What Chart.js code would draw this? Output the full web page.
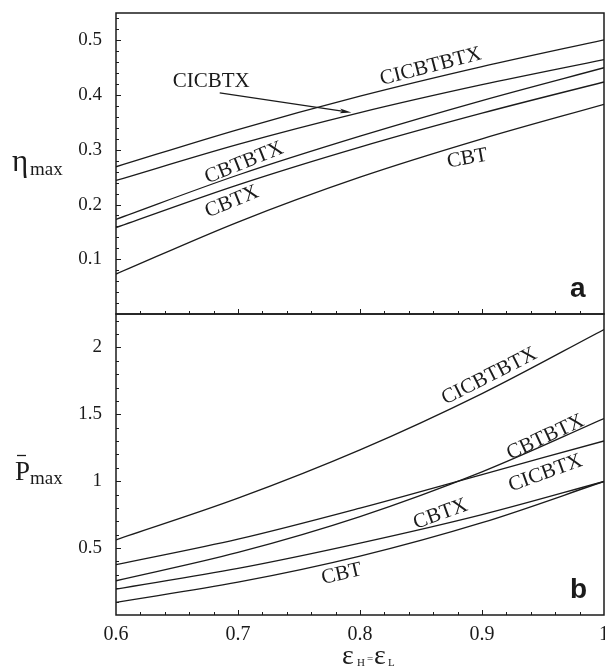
<!DOCTYPE html>
<html>
<head>
<meta charset="utf-8">
<script src="https://cdn.jsdelivr.net/npm/chart.js@4.4.1/dist/chart.umd.min.js"></script>
<style>
    html, body { margin: 0; padding: 0; background: #fff; }
    #wrap { position: relative; width: 605px; height: 669px; overflow: hidden; }
    canvas { position: absolute; left: 0; }
    #chartA { top: 0; }
    #chartB { top: 300px; }
</style>
</head>
<body>
<div id="wrap">
    <canvas id="chartA" width="612" height="332"></canvas>
    <canvas id="chartB" width="612" height="369"></canvas>
</div>
<script>
// emissivity eps_H = eps_L
const eps = [0.6, 0.7, 0.8, 0.9, 1.0];
const xTicks = [0.6, 0.7, 0.8, 0.9, 1];
const etaTicks = [0.1, 0.2, 0.3, 0.4, 0.5];
const powTicks = [0.5, 1, 1.5, 2];

// panel a: max efficiency
const etaCICBTBTX = [0.269, 0.337, 0.398, 0.452, 0.501];
const etaCICBTX = [0.244, 0.310, 0.368, 0.419, 0.465];
const etaCBTBTX = [0.173, 0.254, 0.325, 0.390, 0.450];
const etaCBTX = [0.158, 0.236, 0.305, 0.367, 0.424];
const etaCBT = [0.073, 0.168, 0.250, 0.320, 0.383];

// panel b: max dimensionless power
const powCICBTBTX = [0.562, 0.873, 1.234, 1.655, 2.134];
const powCICBTX = [0.376, 0.567, 0.799, 1.050, 1.301];
const powCBTBTX = [0.256, 0.468, 0.736, 1.070, 1.468];
const powCBTX = [0.194, 0.348, 0.537, 0.750, 0.998];
const powCBT = [0.095, 0.245, 0.440, 0.690, 0.998];

const INK = '#1b1b1b';
const SERIF = '"Liberation Serif", "DejaVu Serif", serif';

function series(values) {
    return {
        data: eps.map((e, i) => ({ x: e, y: values[i] })),
        borderColor: INK,
        borderWidth: 1.3,
        pointRadius: 0,
        fill: false,
        cubicInterpolationMode: 'monotone',
    };
}

// text along a curve, anchored in data coordinates
function curveLabel(chart, text, xv, yv, deg) {
    const ctx = chart.ctx;
    ctx.save();
    ctx.translate(chart.scales.x.getPixelForValue(xv), chart.scales.y.getPixelForValue(yv));
    ctx.rotate(deg * Math.PI / 180);
    ctx.font = '21px ' + SERIF;
    ctx.fillStyle = INK;
    ctx.textAlign = 'center';
    ctx.textBaseline = 'middle';
    ctx.fillText(text, 0, 0);
    ctx.restore();
}

// frame plus inward major / minor tick marks
function drawFrame(chart, yMax, yMinor, yMajors) {
    const { ctx, chartArea: a, scales: { x, y } } = chart;
    ctx.save();
    ctx.strokeStyle = INK;
    ctx.lineWidth = 1.5;
    ctx.strokeRect(a.left, a.top, a.right - a.left, a.bottom - a.top);
    ctx.lineWidth = 1;
    ctx.beginPath();
    // left axis
    const ny = Math.round(yMax / yMinor);
    for (let i = 1; i <= ny; i++) {
        const v = i * yMinor;
        const py = Math.round(y.getPixelForValue(v)) + 0.5;
        if (py < a.top + 2) continue;
        const major = yMajors.some(t => Math.abs(t - v) < 1e-6);
        ctx.moveTo(a.left, py);
        ctx.lineTo(a.left + (major ? 5 : 3), py);
    }
    // bottom axis
    for (let i = 1; i < 20; i++) {
        const v = 0.6 + i * 0.02;
        const px = Math.round(x.getPixelForValue(v)) + 0.5;
        const major = i % 5 === 0;
        ctx.moveTo(px, a.bottom);
        ctx.lineTo(px, a.bottom - (major ? 5 : 3));
    }
    ctx.stroke();
    ctx.restore();
}

function panelLetter(chart, letter) {
    const { ctx, chartArea: a } = chart;
    ctx.save();
    ctx.font = 'bold 28px "Liberation Sans", Arial, sans-serif';
    ctx.fillStyle = INK;
    ctx.textAlign = 'left';
    ctx.textBaseline = 'alphabetic';
    ctx.fillText(letter, a.right - 34, a.bottom - 17);
    ctx.restore();
}

function yScale(min, max, ticks) {
    return {
        type: 'linear',
        min: min,
        max: max,
        afterBuildTicks: s => { s.ticks = ticks.map(v => ({ value: v })); },
        afterFit: s => { s.width = 116; },
        grid: { display: false, drawTicks: true, tickLength: 14 },
        border: { display: false },
        ticks: {
            padding: 0,
            color: INK,
            font: { family: SERIF, size: 19 },
            callback: v => String(v),
        },
    };
}

const basePlugins = {
    legend: { display: false },
    tooltip: { enabled: false },
};

const chartA = new Chart(document.getElementById('chartA'), {
    type: 'line',
    data: {
        datasets: [
            series(etaCICBTBTX),
            series(etaCICBTX),
            series(etaCBTBTX),
            series(etaCBTX),
            series(etaCBT),
        ],
    },
    options: {
        responsive: false,
        animation: false,
        events: [],
        layout: { padding: { left: 0, right: 8, top: 13, bottom: 18 } },
        scales: {
            x: { type: 'linear', min: 0.6, max: 1, display: false },
            y: yScale(0, 0.55, etaTicks),
        },
        plugins: basePlugins,
    },
    plugins: [{
        id: 'panelA',
        afterDatasetsDraw(chart) {
            drawFrame(chart, 0.55, 0.02, etaTicks);
            const ctx = chart.ctx;
            const { x, y } = chart.scales;
            curveLabel(chart, 'CICBTX', 0.678, 0.424, 0);
            curveLabel(chart, 'CICBTBTX', 0.858, 0.452, -14.5);
            curveLabel(chart, 'CBTBTX', 0.705, 0.276, -22);
            curveLabel(chart, 'CBTX', 0.695, 0.205, -22);
            curveLabel(chart, 'CBT', 0.888, 0.284, -10);

            // arrow from CICBTX label to its curve
            const x0 = x.getPixelForValue(0.685), y0 = y.getPixelForValue(0.404);
            const x1 = x.getPixelForValue(0.793), y1 = y.getPixelForValue(0.368);
            const ang = Math.atan2(y1 - y0, x1 - x0);
            ctx.save();
            ctx.strokeStyle = INK;
            ctx.fillStyle = INK;
            ctx.lineWidth = 1.2;
            ctx.beginPath();
            ctx.moveTo(x0, y0);
            ctx.lineTo(x1 - 6 * Math.cos(ang), y1 - 6 * Math.sin(ang));
            ctx.stroke();
            ctx.beginPath();
            ctx.moveTo(x1, y1);
            ctx.lineTo(x1 - 12 * Math.cos(ang - 0.2), y1 - 12 * Math.sin(ang - 0.2));
            ctx.lineTo(x1 - 9 * Math.cos(ang), y1 - 9 * Math.sin(ang));
            ctx.lineTo(x1 - 12 * Math.cos(ang + 0.2), y1 - 12 * Math.sin(ang + 0.2));
            ctx.closePath();
            ctx.fill();

            // y axis title: eta_max
            ctx.fillStyle = INK;
            ctx.textAlign = 'left';
            ctx.textBaseline = 'alphabetic';
            ctx.font = '31px ' + SERIF;
            ctx.fillText('\u03b7', 12, 171);
            ctx.font = '19px ' + SERIF;
            ctx.fillText('max', 30, 175);
            ctx.restore();

            panelLetter(chart, 'a');
        },
    }],
});

const chartB = new Chart(document.getElementById('chartB'), {
    type: 'line',
    data: {
        datasets: [
            series(powCICBTBTX),
            series(powCICBTX),
            series(powCBTBTX),
            series(powCBTX),
            series(powCBT),
        ],
    },
    options: {
        responsive: false,
        animation: false,
        events: [],
        layout: { padding: { left: 0, right: 8, top: 14, bottom: 0 } },
        scales: {
            x: {
                type: 'linear',
                min: 0.6,
                max: 1,
                afterBuildTicks: s => { s.ticks = xTicks.map(v => ({ value: v })); },
                afterFit: s => { s.height = 54; },
                grid: { display: false, drawTicks: true, tickLength: 8 },
                border: { display: false },
                ticks: {
                    padding: 0,
                    maxRotation: 0,
                    autoSkip: false,
                    color: INK,
                    font: { family: SERIF, size: 20 },
                    callback: v => String(v),
                },
            },
            y: yScale(0, 2.25, powTicks),
        },
        plugins: basePlugins,
    },
    plugins: [{
        id: 'panelB',
        afterDatasetsDraw(chart) {
            drawFrame(chart, 2.25, 0.1, powTicks);
            const ctx = chart.ctx;
            curveLabel(chart, 'CICBTBTX', 0.906, 1.784, -27);
            curveLabel(chart, 'CBTBTX', 0.952, 1.328, -25);
            curveLabel(chart, 'CICBTX', 0.952, 1.060, -20);
            curveLabel(chart, 'CBTX', 0.866, 0.754, -20);
            curveLabel(chart, 'CBT', 0.785, 0.306, -13);

            ctx.save();
            ctx.fillStyle = INK;
            ctx.strokeStyle = INK;
            ctx.textAlign = 'left';
            ctx.textBaseline = 'alphabetic';
            // y axis title: P-bar_max
            ctx.font = '27px ' + SERIF;
            ctx.fillText('P', 15, 180);
            ctx.lineWidth = 1.3;
            ctx.beginPath();
            ctx.moveTo(17, 155.5);
            ctx.lineTo(26, 155.5);
            ctx.stroke();
            ctx.font = '19px ' + SERIF;
            ctx.fillText('max', 30, 184);

            // x axis title: eps_H = eps_L
            ctx.font = '28px ' + SERIF;
            ctx.fillText('\u03b5', 342, 364);
            ctx.fillText('\u03b5', 374, 364);
            ctx.font = '11px ' + SERIF;
            ctx.fillText('H', 357, 366);
            ctx.fillText('L', 388, 366);
            ctx.font = '11px ' + SERIF;
            ctx.fillText('=', 367, 362);
            ctx.restore();

            panelLetter(chart, 'b');
        },
    }],
});
</script>
</body>
</html>
